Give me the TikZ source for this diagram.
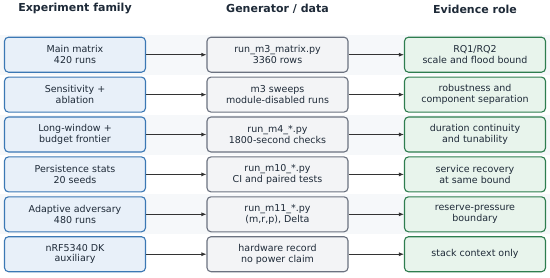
\documentclass[tikz,border=0pt]{standalone}
\usepackage{fontspec}
\setmainfont{DejaVu Sans}
\usetikzlibrary{arrows.meta}
\definecolor{txt}{HTML}{1E2A38}
\definecolor{bandc}{HTML}{F6F8FA}
\definecolor{famfill}{HTML}{E8F0F9}
\definecolor{famdraw}{HTML}{3B78B4}
\definecolor{genfill}{HTML}{F3F4F6}
\definecolor{gendraw}{HTML}{6B7280}
\definecolor{evfill}{HTML}{E8F4EC}
\definecolor{evdraw}{HTML}{2E7D4F}
\definecolor{arr}{HTML}{333333}
\tikzset{
  head/.style={font=\bfseries\fontsize{11}{13}\selectfont, text=txt, anchor=center},
  basebox/.style={rounded corners=4pt, line width=1.1pt, minimum width=141pt, minimum height=35pt,
    align=center, text=txt, font=\fontsize{9.5}{10.5}\selectfont, inner sep=0pt},
  fambox/.style={basebox, fill=famfill, draw=famdraw},
  genbox/.style={basebox, fill=genfill, draw=gendraw},
  evbox/.style={basebox, fill=evfill, draw=evdraw},
  link/.style={-{Latex[length=5pt,width=4pt]}, draw=arr, line width=0.8pt},
  band/.style={fill=bandc, draw=none}
}
\begin{document}
\begin{tikzpicture}[x=1pt,y=-1pt]
\useasboundingbox (0,0) rectangle (550,277);
\fill[white] (0,0) rectangle (550,277);
\foreach \i in {0,2,4} {
  \fill[band] (0,{34.7+39.9*\i}) rectangle (550,{74.7+39.9*\i});
}
\node[head] (h1) at (75,9) {Experiment family};
\node[head] (h2) at (277.5,9) {Generator / data};
\node[head] (h3) at (475,9) {Evidence role};
\foreach \i/\a/\b/\c in {
  0/{Main matrix\\420 runs}/{run\_m3\_matrix.py\\3360 rows}/{RQ1/RQ2\\scale and flood bound},
  1/{Sensitivity +\\ablation}/{m3 sweeps\\module-disabled runs}/{robustness and\\component separation},
  2/{Long-window +\\budget frontier}/{run\_m4\_*.py\\1800-second checks}/{duration continuity\\and tunability},
  3/{Persistence stats\\20 seeds}/{run\_m10\_*.py\\CI and paired tests}/{service recovery\\at same bound},
  4/{Adaptive adversary\\480 runs}/{run\_m11\_*.py\\(m,r,p), Delta}/{reserve-pressure\\boundary},
  5/{nRF5340 DK\\auxiliary}/{hardware record\\no power claim}/{stack context only}} {
  \node[fambox] (f\i) at (75,{54.7+39.9*\i}) {\a};
  \node[genbox] (g\i) at (277.5,{54.7+39.9*\i}) {\b};
  \node[evbox] (e\i) at (475,{54.7+39.9*\i}) {\c};
  \draw[link] (f\i) -- (g\i);
  \draw[link] (g\i) -- (e\i);
}
\end{tikzpicture}
\end{document}
